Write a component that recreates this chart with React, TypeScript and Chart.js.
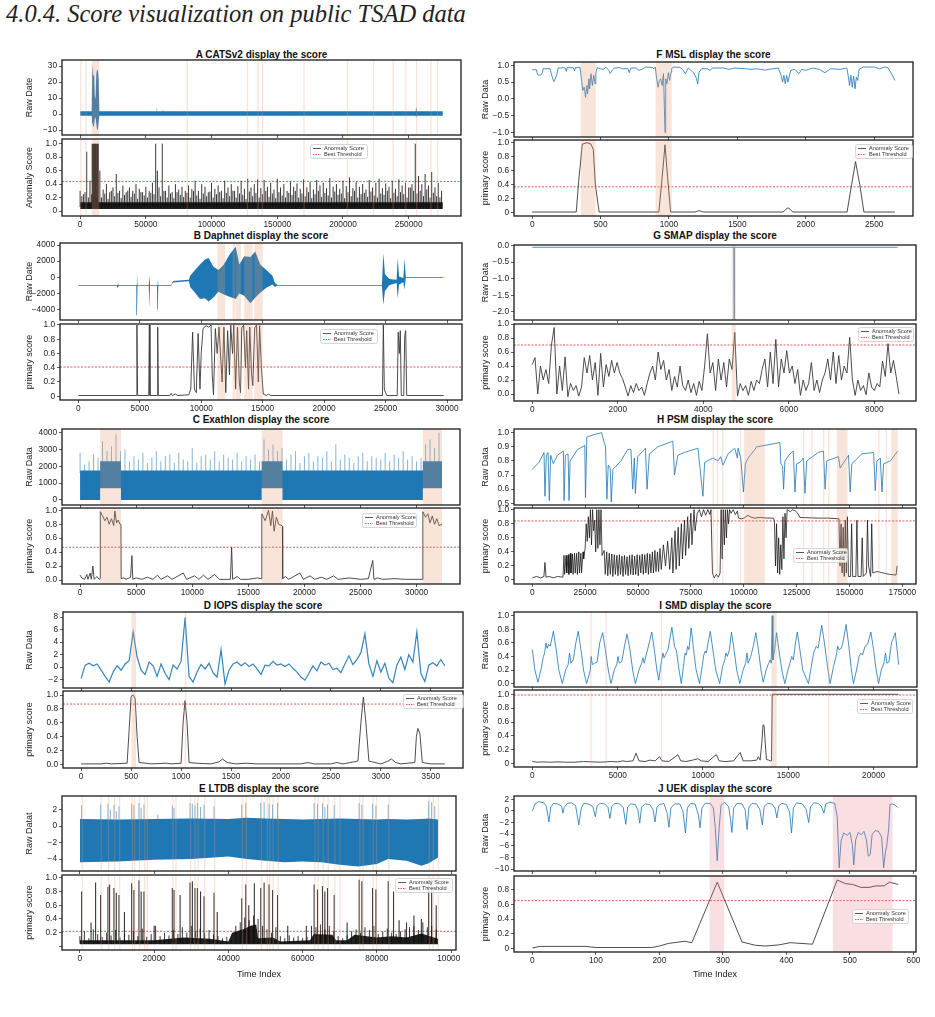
import React, { useEffect, useRef } from 'react';
import { Chart, registerables } from 'chart.js';
Chart.register(...registerables);

const FONT = "'Liberation Sans', Arial, Helvetica, sans-serif";
const MINUS = '\u2212';

// ---------------- text ----------------
const heading = '4.0.4. Score visualization on public TSAD data';
const panelTitles = ['A CATSv2 display the score', 'F MSL display the score', 'B Daphnet display the score', 'G SMAP display the score', 'C Exathlon display the score', 'H PSM display the score', 'D IOPS display the score', 'I SMD display the score', 'E LTDB display the score', 'J UEK display the score'];
const legendLabels = ['Anormaly Score', 'Best Threshold'];
const scoreYTicks = [0, 0.2, 0.4, 0.6, 0.8, 1.0];

// ---------------- A CATSv2 ----------------
const aXTicks = [0, 50000, 100000, 150000, 200000, 250000];
const aRawYTicks = [-10, 0, 10, 20, 30];
const aRawX = [0, 8800, 9300, 9900, 10500, 11100, 11700, 12300, 12900, 13500, 14100, 14600, 58000, 58300, 58700, 62600, 62900, 63300, 255300, 255700, 256200, 276000];
const aRawHi = [1.7, 1.7, 31, 24, 30, 12, 9, 25, 28, 27, 22, 1.7, 1.7, 4.5, 1.7, 1.7, 3.2, 1.7, 1.7, 4.6, 1.7, 1.7];
const aRawLo = [-1.0, -1.0, -7.5, -5, -8, -3, -2, -6, -10, -9.5, -5, -1.0, -1.0, -1.0, -1.0, -1.0, -1.0, -1.0, -1.0, -2, -1.0, -1.0];
const aCoreX = [0, 8800, 8800, 13900, 13900, 276000];
const aCoreHi = [0.13, 0.13, 1.0, 1.0, 0.13, 0.13];
const aSpikeStep = 2500;
const aSpikeTop = [0.3, 0.25, 0.88, 0.45, 0.2, 0.2, 0.6, 0.32, 0.4, 0.28, 0.35, 0.55, 0.3, 0.38, 0.28, 0.35, 0.3, 0.4, 0.33, 0.28, 0.36, 0.3, 0.42, 1.0, 0.35, 1.0, 0.3, 0.38, 0.28, 0.4, 0.32, 0.36, 0.3, 0.38, 0.33, 0.45, 0.3, 0.4, 0.36, 0.28, 0.42, 0.33, 0.38, 0.3, 0.45, 0.35, 0.4, 0.3, 0.37, 0.45, 0.33, 0.48, 0.35, 0.4, 0.47, 0.34, 0.46, 0.36, 0.42, 0.32, 0.48, 0.35, 0.4, 0.3, 0.44, 0.36, 0.41, 0.33, 0.47, 0.35, 0.43, 0.32, 0.46, 0.38, 0.42, 0.34, 0.49, 0.36, 0.4, 0.33, 0.45, 0.37, 0.5, 0.34, 0.43, 0.36, 0.4, 0.32, 0.46, 0.35, 0.42, 0.48, 0.34, 0.41, 0.36, 0.45, 0.33, 0.47, 0.38, 0.42, 0.35, 0.4, 1.0, 0.52, 0.4, 0.55, 0.38, 0.58, 0.35, 0.42, 0.3];
const aSpike2Start = 1250;
const aSpike2Top = [0.22, 0.28, 0.2, 0.25, 1.0, 1.0, 0.2, 0.26, 0.18, 0.3, 0.22, 0.27, 0.19, 0.24, 0.3, 0.21, 0.26, 0.18, 0.28, 0.23, 0.2, 0.27, 0.25, 0.6, 0.22, 0.3, 0.2, 0.26, 0.19, 0.28, 0.24, 0.21, 0.27, 0.2, 0.3, 0.23, 0.18, 0.26, 0.22, 0.29, 0.2, 0.25, 0.28, 0.19, 0.27, 0.22, 0.3, 0.2, 0.26, 0.24, 0.18, 0.29, 0.22, 0.27, 0.2, 0.25, 0.3, 0.21, 0.26, 0.19, 0.28, 0.23, 0.2, 0.27, 0.24, 0.3, 0.2, 0.26, 0.22, 0.28, 0.19, 0.25, 0.3, 0.21, 0.27, 0.23, 0.2, 0.29, 0.24, 0.26, 0.19, 0.28, 0.22, 0.3, 0.2, 0.25, 0.27, 0.21, 0.29, 0.23, 0.2, 0.26, 0.24, 0.3, 0.19, 0.27, 0.22, 0.28, 0.25, 0.2, 0.35, 0.3, 0.26, 0.3, 0.22, 0.32, 0.2, 0.27, 0.22, 0.2];
const aThreshold = 0.44;
const aSpans = [[8800, 14500], [0, 500], [4000, 4500], [81000, 81500], [126800, 127300], [134900, 135400], [138200, 138700], [169900, 170400], [202900, 203400], [222700, 223200], [237700, 238200], [247300, 247800], [255500, 256000], [266400, 266900], [271500, 272000]];

// ---------------- B Daphnet ----------------
const bXTicks = [0, 5000, 10000, 15000, 20000, 25000, 30000];
const bRawYTicks = [-4000, -2000, 0, 2000, 4000];
// [time, high, low]
const bRaw = [[0, -950, -1050], [3150, -950, -1050], [3220, -750, -1250], [3290, -950, -1050], [4720, -950, -1050], [4770, 600, -4700], [4820, -950, -1050], [5730, -950, -1050], [5780, 300, -3800], [5830, -950, -1050], [6410, -950, -1050], [6460, -200, -4000], [6510, -950, -1050], [7550, -950, -1050], [7700, -450, -650], [9000, -300, -500], [9100, 200, -1200], [9500, 900, -1900], [9900, 1600, -2700], [10300, 2200, -2600], [10600, 2400, -3000], [11000, 1300, -2500], [11400, 900, -1800], [11800, 1500, -2100], [12300, 2800, -2400], [12800, 3800, -2700], [13100, 1600, -2000], [13500, 2600, -2300], [14000, 2500, -3200], [14400, 3200, -2500], [14800, 1600, -1900], [15300, 900, -1300], [15800, 200, -900], [16000, -700, -1200], [16200, -950, -1050], [24700, -950, -1050], [24820, 3000, -3400], [24950, 400, -1700], [25300, -200, -1000], [25900, -300, -700], [25990, 2400, -2600], [26100, 100, -900], [26450, -100, -600], [26540, 2300, -1500], [26650, 50, -50], [29730, 50, -50]];
const bScore = [[0, 0.01], [4720, 0.01], [4770, 1.0], [4820, 0.01], [5730, 0.01], [5780, 1.0], [5830, 0.01], [6410, 0.01], [6460, 0.97], [6510, 0.01], [7450, 0.01], [7550, 0.04], [7650, 0.01], [7900, 0.03], [8100, 0.01], [9000, 0.02], [9150, 0.1], [9300, 0.9], [9450, 0.1], [9600, 0.05], [9750, 0.88], [9900, 0.1], [10000, 0.6], [10150, 0.95], [10400, 0.99], [10600, 0.97], [10800, 1.0], [10900, 0.3], [11000, 0.02], [11150, 0.95], [11300, 0.6], [11450, 0.97], [11600, 0.5], [11700, 0.2], [11850, 0.97], [12000, 0.05], [12150, 0.92], [12300, 0.3], [12400, 1.0], [12550, 0.6], [12650, 1.0], [12800, 0.1], [12950, 0.97], [13100, 0.2], [13200, 0.05], [13300, 0.96], [13450, 1.0], [13600, 0.4], [13700, 0.92], [13850, 0.1], [13950, 0.97], [14100, 0.3], [14200, 0.15], [14350, 0.96], [14500, 1.0], [14650, 0.2], [14750, 0.99], [14900, 0.4], [15050, 0.03], [15300, 0.01], [15500, 0.03], [15650, 0.01], [24750, 0.01], [24820, 1.0], [24900, 0.1], [25000, 0.05], [25100, 0.01], [25950, 0.01], [26030, 0.9], [26120, 0.6], [26200, 0.92], [26280, 0.01], [26480, 0.01], [26560, 0.85], [26640, 0.92], [26720, 0.01], [29730, 0.01]];
const bThreshold = 0.41;
const bSpans = [[11320, 11950], [12550, 12770], [12820, 13230], [13500, 14180], [14320, 15000]];

// ---------------- C Exathlon ----------------
const cXTicks = [0, 5000, 10000, 15000, 20000, 25000, 30000];
const cRawYTicks = [0, 1000, 2000, 3000, 4000];
const cCoreX = [0, 1790, 1790, 3640, 3640, 16190, 16190, 18040, 18040, 30560, 30560, 32260];
const cCoreHi = [1750, 1750, 2300, 2300, 1750, 1750, 2300, 2300, 1750, 1750, 2300, 2300];
const cCoreLo = [0, 0, 700, 700, 0, 0, 700, 700, 0, 0, 700, 700];
const cSpikeStep = 400;
const cSpikeTop = [2800, 2100, 2300, 2700, 2500, 3500, 2900, 3200, 3900, 2900, 3000, 2300, 2600, 2400, 2800, 2200, 2500, 2900, 2300, 2600, 2700, 2200, 2800, 2400, 2300, 3100, 2200, 2600, 2700, 2400, 2900, 2300, 2700, 2500, 2400, 2800, 2300, 2600, 2400, 2700, 2300, 3600, 3000, 3300, 2900, 3100, 2400, 2700, 2900, 2200, 2600, 2800, 2300, 2600, 2500, 2900, 2300, 3300, 2400, 2700, 2500, 2200, 2600, 2800, 2300, 2600, 2500, 2400, 2800, 2300, 2700, 2500, 2900, 2400, 2600, 2300, 2500, 3300, 3600, 3100, 4000];
const cScore = [[0, 0.07], [150, 0.03], [400, 0.01], [600, 0.08], [700, 0.01], [900, 0.1], [1000, 0.01], [1140, 0.2], [1250, 0.01], [1500, 0.05], [1700, 0.01], [1780, 0.02], [1800, 0.98], [2000, 0.92], [2200, 0.85], [2400, 0.9], [2600, 0.8], [2800, 0.88], [3000, 0.78], [3100, 0.99], [3250, 0.82], [3400, 0.86], [3550, 0.8], [3640, 0.8], [3660, 0.02], [3900, 0.03], [4100, 0.01], [4500, 0.04], [4620, 0.35], [4700, 0.01], [5000, 0.03], [5500, 0.01], [6000, 0.04], [6500, 0.01], [6900, 0.07], [7200, 0.01], [7800, 0.06], [8200, 0.01], [9200, 0.1], [9500, 0.01], [10200, 0.06], [10600, 0.01], [11000, 0.07], [11400, 0.01], [12000, 0.08], [12400, 0.01], [13400, 0.01], [13510, 0.47], [13600, 0.01], [14000, 0.05], [14300, 0.01], [15000, 0.01], [15800, 0.03], [16150, 0.02], [16200, 0.95], [16500, 0.85], [16800, 1.0], [17000, 0.78], [17150, 0.99], [17300, 0.7], [17500, 0.9], [17700, 0.8], [18000, 0.78], [18040, 0.77], [18060, 0.02], [18300, 0.05], [18600, 0.01], [19600, 0.1], [19900, 0.01], [20500, 0.06], [20900, 0.01], [21500, 0.04], [22000, 0.01], [22600, 0.06], [23000, 0.01], [24000, 0.03], [25000, 0.01], [25700, 0.02], [26090, 0.28], [26200, 0.01], [26500, 0.03], [27000, 0.01], [28000, 0.02], [29000, 0.01], [30500, 0.01], [30560, 0.98], [30800, 0.9], [31000, 0.95], [31200, 0.82], [31400, 0.92], [31600, 0.8], [31800, 0.88], [32000, 0.78], [32260, 0.8]];
const cThreshold = 0.47;
const cSpans = [[1790, 3640], [16190, 18040], [30560, 32260]];

// ---------------- D IOPS ----------------
const dXTicks = [0, 500, 1000, 1500, 2000, 2500, 3000, 3500];
const dRawYTicks = [-2, 0, 2, 4, 6, 8];
const dRawStep = 40;
const dRaw = [-1.8, 0.3, 0.6, 0.2, 0.5, -0.5, -1.5, -2.4, -0.8, 0.2, -0.5, 0.5, 1.0, 5.6, 1.6, -0.5, -1.2, 0.8, 0.2, -1.5, 0.5, -1.0, -2.0, 0.3, -0.3, 0.9, 7.9, -1.5, -2.4, -0.8, 0.4, -0.3, 0.6, -0.9, -1.6, 2.8, -2.7, -0.5, 0.5, 0.8, 0.2, 0.7, 0.1, 0.5, -0.3, -1.2, 0.3, 0.2, 0.9, 0.3, 0.5, 0.1, 0.5, -0.2, -0.8, -1.6, -2.1, -1.0, 0.2, -0.6, 0.8, 0.3, 0.6, -0.4, -0.2, -0.9, 0.5, 1.8, 0.4, 1.2, 2.3, 5.3, 0.5, -1.5, 1.0, -0.8, 0.6, -1.8, -2.5, 0.3, 1.6, -0.4, 2.0, 0.8, 5.6, -1.0, -2.3, 0.3, 0.7, 0.2, 1.2, 0.2];
const dScore = [[0, 0.01], [200, 0.01], [250, 0.02], [300, 0.01], [460, 0.02], [480, 0.5], [500, 0.98], [520, 1.0], [540, 0.95], [560, 0.4], [580, 0.03], [650, 0.02], [700, 0.01], [850, 0.02], [900, 0.01], [1000, 0.02], [1020, 0.6], [1040, 0.92], [1060, 0.6], [1080, 0.03], [1150, 0.02], [1300, 0.01], [1380, 0.04], [1415, 0.08], [1460, 0.03], [1550, 0.01], [1650, 0.02], [1750, 0.01], [2200, 0.01], [2270, 0.03], [2330, 0.01], [2500, 0.01], [2560, 0.03], [2620, 0.01], [2770, 0.05], [2800, 0.6], [2825, 0.97], [2850, 0.6], [2880, 0.05], [3000, 0.01], [3070, 0.05], [3105, 0.08], [3150, 0.03], [3200, 0.01], [3340, 0.03], [3355, 0.4], [3370, 0.52], [3390, 0.45], [3415, 0.03], [3500, 0.01], [3640, 0.01]];
const dThreshold = 0.87;
const dSpans = [[503, 549], [1038, 1046]];

// ---------------- E LTDB ----------------
const eXTicks = [0, 20000, 40000, 60000, 80000, 100000];
const eRawYTicks = [-4, -2, 0, 2];
// [time, high, low]
const eRawCore = [[0, 0.85, -4.4], [10000, 0.8, -4.3], [20000, 0.85, -4.1], [30000, 0.9, -4.0], [40000, 0.85, -3.7], [45000, 1.0, -4.0], [50000, 0.9, -4.2], [55000, 0.85, -4.4], [60000, 0.8, -4.3], [65000, 0.85, -4.4], [70000, 0.9, -4.7], [75000, 0.85, -4.9], [80000, 0.8, -4.6], [83000, 0.85, -4.0], [88000, 0.8, -4.2], [92000, 0.85, -4.8], [94000, 0.9, -4.5], [96500, 0.8, -3.8]];
const eRawSpikeX = [460, 5580, 7560, 8200, 9180, 9800, 10520, 13940, 14560, 15910, 16500, 17260, 21000, 24900, 25350, 29670, 30300, 31000, 31650, 32500, 33450, 36140, 43610, 44690, 48730, 49630, 50970, 51900, 53240, 63110, 64010, 65360, 66000, 66710, 68510, 75240, 75970, 78850, 79750, 83070, 93960, 94770, 95600];
const eRawSpikeTop = [2.5, 2.6, 2.7, 2.0, 2.6, 1.8, 2.4, 2.7, 2.5, 2.8, 2.2, 2.6, 1.4, 2.5, 2.2, 2.8, 2.7, 2.5, 2.8, 2.3, 2.6, 2.4, 2.6, 2.8, 2.8, 2.9, 2.7, 2.6, 2.8, 2.8, 2.7, 2.7, 2.3, 2.6, 2.5, 2.8, 2.6, 2.7, 2.5, 2.6, 3.0, 2.9, 2.4];
const eCore = [[0, 0.09], [20000, 0.09], [28000, 0.13], [35000, 0.11], [40000, 0.07], [41000, 0.2], [44000, 0.25], [46000, 0.3], [47500, 0.32], [48000, 0.12], [52000, 0.13], [54000, 0.07], [62000, 0.09], [63000, 0.18], [68000, 0.17], [69000, 0.09], [72000, 0.09], [74000, 0.17], [80000, 0.13], [84000, 0.15], [88000, 0.13], [92000, 0.19], [96500, 0.11]];
const eSpikeX = [460, 3000, 4230, 5580, 7560, 8000, 9180, 9800, 10520, 12000, 13940, 14560, 15910, 16500, 17260, 20000, 24900, 25350, 27000, 29670, 30300, 31000, 31650, 32500, 33450, 36140, 37000, 43610, 44690, 45500, 47000, 48730, 49630, 50970, 51900, 53240, 56000, 61000, 63110, 64010, 65360, 66000, 66710, 68510, 72000, 75240, 75970, 78850, 79750, 83070, 84500, 86000, 88000, 90000, 92000, 93960, 94770, 96000];
const eSpikeTop = [0.8, 0.35, 0.93, 0.75, 0.87, 0.9, 0.85, 0.78, 0.75, 0.5, 0.92, 0.82, 0.96, 0.8, 0.8, 0.3, 0.85, 0.82, 0.75, 0.93, 0.95, 0.85, 0.85, 0.8, 0.73, 0.78, 0.5, 0.7, 0.9, 0.6, 0.92, 0.85, 0.93, 0.9, 0.82, 0.75, 0.3, 0.3, 0.9, 0.83, 0.88, 0.8, 0.85, 0.75, 0.35, 0.97, 0.95, 0.85, 0.83, 0.95, 0.8, 0.38, 0.35, 0.45, 0.4, 0.92, 0.97, 0.6];
const eSmallStep = 1200;
const eSmallTop = [0.15, 0.22, 0.12, 0.25, 0.18, 0.14, 0.2, 0.16, 0.24, 0.13, 0.19, 0.17, 0.22, 0.15, 0.26, 0.14, 0.18, 0.3, 0.15, 0.2, 0.16, 0.24, 0.18, 0.28, 0.2, 0.3, 0.22, 0.26, 0.19, 0.24, 0.17, 0.15, 0.12, 0.14, 0.1, 0.3, 0.35, 0.42, 0.38, 0.45, 0.4, 0.3, 0.25, 0.2, 0.28, 0.15, 0.12, 0.16, 0.13, 0.15, 0.12, 0.14, 0.3, 0.28, 0.32, 0.25, 0.3, 0.22, 0.15, 0.12, 0.16, 0.22, 0.25, 0.2, 0.28, 0.24, 0.3, 0.18, 0.22, 0.26, 0.2, 0.18, 0.22, 0.25, 0.28, 0.3, 0.24, 0.35, 0.28, 0.3, 0.25];
const eThreshold = 0.22;
const eSpanAt = [460, 5580, 7560, 9180, 10520, 13940, 14560, 15910, 17260, 18000, 24900, 25700, 29670, 30800, 31650, 33450, 36140, 43610, 44690, 48730, 50300, 50970, 51900, 53240, 63110, 64010, 65360, 66710, 68510, 69900, 75240, 76100, 78850, 79750, 83070, 93960, 95000, 96390];

// ---------------- F MSL ----------------
const fXTicks = [0, 500, 1000, 1500, 2000, 2500];
const fRawYTicks = [-1.0, -0.5, 0.0, 0.5, 1.0];
const fRaw = [[0, 0.87], [30, 0.87], [40, 0.72], [60, 0.7], [75, 0.78], [80, 0.9], [130, 0.9], [140, 0.75], [150, 0.6], [160, 0.52], [170, 0.62], [180, 0.72], [190, 0.92], [240, 0.93], [250, 0.82], [255, 0.93], [300, 0.93], [310, 0.83], [315, 0.93], [350, 0.94], [360, 0.6], [370, 0.25], [380, 0.35], [390, 0.05], [400, 0.4], [405, 0.15], [415, 0.6], [420, 0.3], [430, 0.75], [440, 0.4], [450, 0.7], [460, 0.45], [465, 0.75], [470, 0.85], [475, 0.93], [500, 0.9], [520, 0.88], [540, 0.94], [560, 0.85], [570, 0.76], [580, 0.82], [600, 0.92], [640, 0.93], [660, 0.9], [700, 0.9], [710, 0.78], [720, 0.92], [760, 0.92], [780, 0.85], [800, 0.88], [830, 0.95], [860, 0.94], [880, 0.93], [890, 0.9], [900, 0.95], [910, 0.6], [920, 0.35], [930, 0.55], [940, 0.6], [950, 0.4], [960, 0.75], [971, -1.0], [976, 0.6], [985, 0.45], [995, 0.78], [1005, 0.55], [1015, 0.8], [1020, 0.9], [1030, 0.95], [1080, 0.94], [1100, 0.88], [1120, 0.75], [1140, 0.92], [1160, 0.85], [1180, 0.78], [1200, 0.62], [1210, 0.45], [1220, 0.8], [1240, 0.9], [1280, 0.9], [1300, 0.85], [1320, 0.92], [1400, 0.92], [1440, 0.88], [1480, 0.92], [1560, 0.9], [1600, 0.88], [1640, 0.9], [1700, 0.86], [1760, 0.9], [1800, 0.92], [1820, 0.7], [1830, 0.5], [1840, 0.7], [1850, 0.45], [1860, 0.7], [1870, 0.5], [1880, 0.68], [1890, 0.85], [1920, 0.88], [1950, 0.75], [1970, 0.88], [2000, 0.85], [2050, 0.92], [2100, 0.88], [2140, 0.78], [2180, 0.9], [2250, 0.88], [2300, 0.92], [2310, 0.7], [2320, 0.4], [2330, 0.7], [2340, 0.35], [2350, 0.68], [2360, 0.3], [2370, 0.65], [2380, 0.55], [2390, 0.88], [2420, 0.95], [2500, 0.95], [2540, 0.9], [2580, 0.95], [2600, 0.93], [2620, 0.8], [2640, 0.65], [2651, 0.55]];
const fScore = [[0, 0.01], [322, 0.01], [340, 0.45], [366, 0.98], [400, 1.0], [430, 0.98], [447, 0.9], [462, 0.4], [489, 0.01], [926, 0.01], [950, 0.5], [971, 0.97], [990, 0.5], [1012, 0.01], [1190, 0.01], [1221, 0.03], [1250, 0.01], [1835, 0.01], [1855, 0.05], [1870, 0.07], [1885, 0.05], [1904, 0.01], [2302, 0.01], [2335, 0.4], [2364, 0.73], [2395, 0.4], [2425, 0.01], [2651, 0.01]];
const fThreshold = 0.37;
const fSpans = [[356, 464], [902, 1020]];

// ---------------- G SMAP ----------------
const gXTicks = [0, 2000, 4000, 6000, 8000];
const gRawYTicks = [-2.0, -1.5, -1.0, -0.5, 0.0];
const gRaw = [[0, -0.05], [4715, -0.05], [4721, -2.22], [4727, -0.05], [8548, -0.05]];
const gScoreStep = 64;
const gScore = [0.42, 0.52, 0.0, 0.4, 0.2, 0.35, 0.15, 0.7, 0.95, 0.0, 0.4, 0.05, 0.53, -0.04, 0.15, 0.05, 0.12, -0.03, 0.1, 0.52, 0.3, 0.55, 0.2, 0.45, -0.02, 0.58, 0.1, 0.42, 0.25, 0.48, 0.3, 0.45, 0.3, 0.22, 0.1, -0.03, 0.12, 0.02, 0.15, 0.05, 0.1, -0.02, 0.15, 0.3, 0.4, 0.2, 0.6, 0.35, 0.48, 0.2, 0.35, 0.05, 0.25, 0.1, 0.4, 0.12, 0.05, 0.2, 0.02, 0.15, -0.02, 0.18, 0.05, 0.4, 0.86, 0.3, 0.45, 0.05, 0.5, 0.2, 0.45, 0.1, 0.5, 0.35, 0.88, -0.03, 0.15, 0.05, 0.12, -0.02, 0.18, 0.05, 0.2, 0.15, 0.35, 0.5, 0.1, 0.6, 0.15, 0.78, 0.1, 0.5, 0.3, 0.62, 0.3, 0.4, 0.15, 0.35, -0.02, 0.2, 0.05, 0.15, 0.45, 0.05, 0.2, 0.02, 0.2, 0.3, 0.5, 0.2, 0.6, 0.15, 0.55, 0.2, 0.4, 0.3, 0.81, 0.2, -0.02, 0.2, 0.05, 0.12, -0.01, 0.3, 0.1, 0.05, 0.15, 0.1, 0.47, 0.25, 0.72, 0.3, 0.48, 0.25, 0.0];
const gThreshold = 0.70;
const gSpans = [[4667, 4761]];

// ---------------- H PSM ----------------
const hXTicks = [0, 25000, 50000, 75000, 100000, 125000, 150000, 175000];
const hRawYTicks = [0.5, 0.6, 0.7, 0.8, 0.9, 1.0];
const hRaw = [[0, 0.74], [3160, 0.79], [5540, 0.86], [6010, 0.55], [6650, 0.84], [7440, 0.86], [8070, 0.52], [8700, 0.84], [9970, 0.78], [11870, 0.84], [14720, 0.87], [15030, 0.52], [15660, 0.84], [16930, 0.85], [17400, 0.52], [17880, 0.8], [21360, 0.88], [24840, 0.91], [25160, 0.54], [25790, 0.97], [30060, 0.99], [32750, 1.0], [34020, 0.93], [34650, 0.9], [35280, 0.53], [35920, 0.77], [36870, 0.75], [37340, 0.51], [38130, 0.74], [41930, 0.8], [45090, 0.88], [46680, 0.88], [47470, 0.6], [48260, 0.82], [48730, 0.57], [49840, 0.83], [53480, 0.89], [54270, 0.6], [55380, 0.85], [59340, 0.9], [66460, 0.94], [67250, 0.7], [68830, 0.84], [71990, 0.86], [78320, 0.89], [80700, 0.55], [81490, 0.79], [85440, 0.82], [87820, 0.8], [89080, 0.83], [90190, 0.77], [92560, 0.85], [95730, 0.89], [96990, 0.82], [97310, 0.89], [98570, 0.82], [99840, 0.58], [100790, 0.78], [102060, 0.82], [105220, 0.88], [106010, 0.9], [109970, 0.91], [117090, 0.93], [117560, 0.78], [118350, 0.76], [118830, 0.6], [119460, 0.8], [121840, 0.85], [123420, 0.87], [124210, 0.58], [125000, 0.78], [126580, 0.79], [128160, 0.82], [128960, 0.57], [129750, 0.8], [135280, 0.86], [137660, 0.87], [138450, 0.6], [139240, 0.8], [144780, 0.83], [145570, 0.75], [149530, 0.84], [150320, 0.58], [151110, 0.78], [155860, 0.85], [161390, 0.86], [162180, 0.59], [162970, 0.8], [164560, 0.82], [165350, 0.58], [166140, 0.78], [169310, 0.8], [172790, 0.87]];
const hScore = [[0, 0.03], [2000, 0.05], [4000, 0.03], [5500, 0.05], [6000, 0.25], [6500, 0.04], [8000, 0.05], [10000, 0.03], [12000, 0.05], [14500, 0.04],
  [15000, 0.35], [15300, 0.08], [16000, 0.35], [16300, 0.1], [17000, 0.36], [17300, 0.08], [18000, 0.38], [18300, 0.1], [19000, 0.37], [19300, 0.08], [20000, 0.38], [20300, 0.1], [21000, 0.38], [21300, 0.08], [22000, 0.4], [22300, 0.1], [23000, 0.38], [23300, 0.1], [24000, 0.4], [24300, 0.3],
  [25000, 0.45], [25500, 0.8], [26000, 0.55], [26500, 0.9], [27000, 0.6], [27500, 1.0], [28000, 0.5], [28500, 1.0], [29000, 0.7], [29500, 0.85], [30000, 0.4], [30500, 1.0], [31000, 0.45], [31500, 1.0], [32000, 0.5], [32500, 1.0], [33000, 0.35],
  [34000, 0.42], [34500, 0.08], [35200, 0.4], [35700, 0.06], [36400, 0.38], [36900, 0.08], [37600, 0.37], [38100, 0.05], [38800, 0.36], [39300, 0.08], [40000, 0.35], [40500, 0.06], [41200, 0.36], [41700, 0.08], [42400, 0.34], [42900, 0.05], [43600, 0.35], [44100, 0.08], [44800, 0.33], [45300, 0.06], [46000, 0.35], [46500, 0.08], [47200, 0.36], [47700, 0.07], [48400, 0.34], [48900, 0.08], [49600, 0.36], [50100, 0.06], [50800, 0.35], [51300, 0.1], [52000, 0.37], [52500, 0.08], [53200, 0.36], [53700, 0.1], [54400, 0.38], [54900, 0.08], [55600, 0.37], [56100, 0.1], [56800, 0.4], [57300, 0.1], [58000, 0.42], [58500, 0.12], [59200, 0.4], [59700, 0.12],
  [60400, 0.45], [61000, 0.15], [62000, 0.5], [63000, 0.2], [64000, 0.55], [65000, 0.15], [66000, 0.6],
  [66500, 0.1], [67500, 0.7], [68000, 0.15], [69000, 0.75], [69500, 0.2], [70500, 0.8], [71000, 0.3], [72000, 0.85], [72500, 0.35], [73500, 0.9], [74000, 0.45], [75000, 0.95], [75500, 0.5], [76500, 1.0], [77000, 0.7],
  [78000, 0.95], [79000, 1.0], [80000, 0.9], [81000, 1.0], [82000, 0.92], [83000, 1.0], [84000, 0.93], [84500, 1.0],
  [85200, 0.1], [86000, 0.03], [87000, 0.08], [88000, 0.04], [88800, 0.1],
  [89300, 1.0], [89800, 0.3], [90300, 1.0], [90800, 0.5], [91300, 1.0], [91800, 0.6], [92300, 1.0], [92800, 0.8], [93300, 1.0],
  [94000, 0.95], [95000, 1.0], [96000, 0.93], [97000, 0.98],
  [97500, 0.88], [99000, 0.87], [100000, 0.88], [101000, 0.9], [102000, 0.92], [103000, 0.9], [105000, 0.88], [108000, 0.89], [111000, 0.88], [114000, 0.88],
  [114500, 0.85], [115000, 0.2], [115500, 0.8], [116000, 0.1], [116500, 0.6], [117000, 0.08], [117500, 0.5], [118000, 0.15], [118500, 0.9], [119000, 0.3], [119500, 0.95], [120000, 0.6],
  [120500, 1.0], [122000, 0.97], [123000, 1.0], [124500, 0.98], [125500, 0.95],
  [126500, 0.89], [135000, 0.88], [140000, 0.88], [145000, 0.87],
  [145500, 0.2], [146000, 0.8], [146500, 0.1], [147000, 0.75], [147500, 0.05], [148000, 0.85], [148500, 0.1], [149000, 0.9], [149500, 0.05], [150500, 0.05], [151000, 0.8], [151500, 0.05], [153000, 0.05], [153500, 0.85], [154000, 0.05], [155500, 0.05], [156000, 0.6], [156500, 0.05], [158000, 0.1], [158500, 0.85], [159000, 0.2], [160000, 0.05], [160500, 0.8], [161000, 0.1],
  [163000, 0.12], [166000, 0.1], [169000, 0.08], [172000, 0.07], [172500, 0.2]];
const hThreshold = 0.84;
const hSpans = [[100160, 109970], [143990, 149050], [169780, 172780], [85300, 85600], [87200, 87500], [89700, 90000], [98100, 98400], [128000, 128300], [132000, 132300], [137500, 137800], [139900, 140200], [163600, 163900], [167100, 167400]];

// ---------------- I SMD ----------------
const iXTicks = [0, 5000, 10000, 15000, 20000];
const iRawYTicks = [0.0, 0.2, 0.4, 0.6, 0.8, 1.0];
const iRaw = [[0, 0.5], [150, 0.2], [330, 0.02], [520, 0.22], [650, 0.4], [720, 0.45], [800, 0.6], [870, 0.52], [950, 0.58], [1050, 0.55], [1235, 0.77], [1400, 0.5], [1550, 0.2], [1760, 0.0], [1950, 0.2], [2100, 0.28], [2180, 0.45], [2260, 0.3], [2400, 0.35], [2550, 0.6], [2690, 0.77], [2850, 0.5], [3000, 0.2], [3180, 0.0], [3400, 0.2], [3450, 0.4], [3520, 0.28], [3650, 0.3], [3800, 0.32], [3950, 0.6], [4120, 0.75], [4280, 0.5], [4450, 0.2], [4610, 0.0], [4800, 0.2], [4950, 0.28], [5020, 0.4], [5100, 0.3], [5250, 0.33], [5400, 0.55], [5550, 0.73], [5720, 0.5], [5880, 0.2], [6040, 0.0], [6250, 0.2], [6400, 0.3], [6480, 0.38], [6560, 0.3], [6700, 0.45], [6850, 0.6], [7000, 0.76], [7150, 0.5], [7300, 0.2], [7410, 0.05], [7550, 0.3], [7650, 0.45], [7720, 0.38], [7800, 0.42], [7950, 0.5], [8180, 0.83], [8330, 0.55], [8450, 0.48], [8600, 0.2], [8730, 0.0], [8880, 0.3], [8950, 0.45], [9020, 0.42], [9100, 0.55], [9180, 0.5], [9310, 0.82], [9450, 0.5], [9600, 0.2], [9800, 0.0], [9950, 0.25], [10050, 0.42], [10130, 0.48], [10200, 0.45], [10300, 0.6], [10430, 0.77], [10580, 0.5], [10750, 0.2], [10980, 0.0], [11150, 0.25], [11280, 0.35], [11350, 0.45], [11430, 0.4], [11550, 0.5], [11670, 0.76], [11820, 0.5], [11980, 0.2], [12160, 0.0], [12350, 0.2], [12500, 0.3], [12580, 0.45], [12650, 0.3], [12800, 0.4], [12950, 0.55], [13100, 0.75], [13250, 0.5], [13400, 0.2], [13530, 0.02], [13700, 0.2], [13850, 0.3], [13950, 0.35], [14000, 0.3], [14060, 1.0], [14100, 0.35], [14200, 0.5], [14310, 0.75], [14450, 0.5], [14620, 0.2], [14800, 0.0], [14980, 0.2], [15100, 0.3], [15200, 0.4], [15300, 0.35], [15420, 0.6], [15530, 0.76], [15680, 0.5], [15850, 0.2], [16180, 0.0], [16350, 0.25], [16480, 0.45], [16560, 0.5], [16640, 0.55], [16750, 0.52], [16960, 0.86], [17120, 0.6], [17300, 0.25], [17450, 0.0], [17650, 0.25], [17800, 0.4], [17900, 0.55], [17980, 0.5], [18100, 0.52], [18200, 0.6], [18390, 0.87], [18550, 0.55], [18700, 0.2], [18820, 0.0], [19000, 0.2], [19150, 0.4], [19250, 0.45], [19350, 0.42], [19500, 0.55], [19650, 0.58], [19840, 0.76], [20000, 0.5], [20150, 0.2], [20290, 0.0], [20450, 0.2], [20600, 0.3], [20700, 0.45], [20780, 0.3], [20900, 0.32], [21050, 0.6], [21270, 0.75], [21470, 0.28]];
const iScore = [[0, 0.03], [300, 0.02], [600, 0.025], [1000, 0.02], [1500, 0.025], [2000, 0.02], [2500, 0.02], [3000, 0.03], [3500, 0.025], [4000, 0.02], [4600, 0.03], [5000, 0.025], [5300, 0.04], [5500, 0.03], [5900, 0.04], [6080, 0.15], [6250, 0.04], [6600, 0.03], [6900, 0.05], [7200, 0.04], [7450, 0.1], [7600, 0.04], [8000, 0.03], [8530, 0.13], [8700, 0.04], [9000, 0.03], [9400, 0.05], [9700, 0.07], [9900, 0.04], [10300, 0.03], [10780, 0.13], [10950, 0.04], [11300, 0.03], [11800, 0.04], [12180, 0.16], [12350, 0.04], [12800, 0.04], [13150, 0.05], [13240, 0.1], [13350, 0.05], [13450, 0.3], [13520, 0.56], [13580, 0.55], [13650, 0.3], [13720, 0.06], [13850, 0.05], [13950, 0.04], [14020, 0.04], [14060, 1.0], [21470, 1.0]];
const iThreshold = 0.99;
const iSpans = [[14020, 14320], [3400, 3460], [4290, 4350], [7530, 7570], [17330, 17370]];

// ---------------- J UEK ----------------
const jXTicks = [0, 100, 200, 300, 400, 500, 600];
const jRawYTicks = [-10, -8, -6, -4, -2, 0, 2];
const jScoreYTicks = [0, 0.2, 0.4, 0.6, 0.8];
const jRaw = [[0, 0.0], [4, 1.2], [10, 1.6], [18, 1.4], [22, 0.8], [26, -1.9], [29, 0.7], [33, 1.3], [40, 1.2], [46, 0.8], [48, -0.4], [50, 0.6], [55, 1.3], [62, 1.4], [68, 0.9], [73, -2.4], [77, 0.5], [81, 1.3], [88, 1.2], [95, 0.8], [99, -1.0], [102, 0.9], [107, 1.3], [114, 1.2], [119, 0.6], [122, -1.3], [125, 0.8], [130, 1.3], [137, 1.2], [143, 0.6], [147, -2.3], [150, 0.7], [155, 1.2], [162, 1.1], [166, 0.2], [169, -2.1], [172, 0.7], [178, 1.2], [185, 1.1], [190, 0.2], [193, -1.9], [196, 0.6], [200, 1.1], [207, 1.3], [212, -0.3], [215, -2.8], [218, 0.5], [224, 1.2], [232, 1.2], [237, 0.0], [241, -3.8], [244, 0.5], [249, 1.3], [256, 1.2], [261, -0.5], [264, -2.9], [267, 0.5], [272, 1.3], [280, 1.3], [285, 0.5], [288, -3.0], [291, -8.6], [294, -3.0], [297, 1.0], [303, 1.5], [309, 0.7], [312, -1.5], [314, -3.7], [317, 0.5], [322, 1.3], [330, 1.2], [335, 0.2], [338, -3.2], [341, 0.7], [346, 1.3], [353, 1.2], [358, 0.3], [362, -2.4], [365, 0.8], [370, 1.3], [377, 1.2], [382, 0.5], [385, -1.2], [388, 0.9], [393, 1.3], [400, 1.1], [405, -0.2], [408, -3.8], [411, 0.5], [416, 1.4], [425, 1.2], [431, 0.3], [435, -2.0], [438, 0.7], [443, 1.4], [450, 1.3], [455, 0.8], [459, -0.4], [462, 1.2], [468, 1.5], [476, 1.3], [480, -1.0], [483, -9.8], [486, -5.2], [490, -3.8], [496, -4.2], [500, -3.7], [504, -6.0], [506, -9.3], [509, -5.0], [513, -3.7], [518, -4.1], [522, -3.5], [526, -5.0], [529, -7.8], [532, -7.5], [535, -4.0], [540, -3.4], [545, -3.5], [550, -4.5], [553, -9.8], [556, -7.0], [558, -6.0], [561, -3.0], [563, 1.1], [567, 1.2], [571, 1.0], [575, 0.6]];
const jScore = [[0, 0.01], [12, 0.03], [83, 0.03], [100, 0.015], [188, 0.015], [200, 0.035], [214, 0.07], [240, 0.1], [251, 0.08], [291, 0.9], [330, 0.09], [351, 0.045], [367, 0.035], [388, 0.05], [406, 0.08], [441, 0.06], [480, 0.93], [493, 0.88], [504, 0.87], [517, 0.83], [530, 0.83], [541, 0.85], [554, 0.85], [562, 0.9], [576, 0.87]];
const jThreshold = 0.65;
const jSpans = [[279, 302], [473, 567]];

// ---------------- styling ----------------
const RAW = 'rgba(31,119,180,0.9)';
const RAW_FILL = 'rgb(31,119,180)';
const RAW_SPIKE = 'rgba(31,119,180,0.55)';
const SCORE = '#3a3a3a';
const SCORE_FILL = 'rgba(12,12,12,0.92)';
const SCORE_SPIKE = 'rgba(20,20,20,0.85)';
const THR = 'rgba(214,39,40,0.85)';
const SPAN = 'rgba(230,150,110,0.26)';
const SPAN_J = 'rgba(232,120,135,0.24)';
const CL = 20;
const CR = 476;
const PAD_T = 6;
const PAD_R = 4;

// ---------------- helpers ----------------
const PP = (xs: number[], ys: number[]) => xs.map((x, i) => ({ x, y: ys[i] }));
const PAIRS = (arr: number[][], k = 1) => arr.map((r) => ({ x: r[0], y: r[k] }));
const STEP = (step: number, ys: number[]) => ys.map((y, i) => ({ x: i * step, y }));
const SPIKES = (xs: number[], tops: number[], base: number) =>
  xs.flatMap((x, i) => [{ x, y: base }, { x, y: tops[i] }, { x, y: null }]);
const stepXs = (step: number, ys: number[], start = 0) => ys.map((_, i) => start + i * step);
const thinSpans = (xs: number[], w: number) => xs.map((x) => [x, x + w]);

const fmtInt = (v: number) => (v < 0 ? MINUS + Math.abs(v) : String(v));
const fmt1 = (v: number) => (v < 0 ? MINUS + Math.abs(v).toFixed(1) : v.toFixed(1));
const fmtS0 = (v: number) => (v === 0 ? '0' : v.toFixed(1));
const fmtNoZero = (v: number) => (v === 0 ? '' : v.toFixed(1));

const lineDs = (data: any[], color: string, width = 0.9, dash: number[] = []) => ({
  data, borderColor: color, borderWidth: width, borderDash: dash, pointRadius: 0, fill: false, tension: 0, spanGaps: false,
});
const bandDs = (hi: any[], lo: any[], color: string) => [
  { data: lo, borderColor: 'transparent', borderWidth: 0, pointRadius: 0, fill: false, tension: 0 },
  { data: hi, borderColor: 'transparent', borderWidth: 0, pointRadius: 0, fill: '-1', backgroundColor: color, tension: 0 },
];
const areaDs = (data: any[], base: number, color: string) => ({
  data, borderColor: 'transparent', borderWidth: 0, pointRadius: 0, fill: { value: base }, backgroundColor: color, tension: 0,
});
const thrDs = (t: number, x0: number, x1: number) => lineDs([{ x: x0, y: t }, { x: x1, y: t }], THR, 0.9, [2, 1.5]);

type Spec = any;

function buildSpecs(): Spec[] {
  const S: Spec[] = [];
  const add = (o: any) => S.push(o);

  // A
  const aX = { xMin: -13800, xMax: 289800, xTicks: aXTicks, spans: aSpans, spanColor: SPAN, cl: CL };
  add({ ...aX, frame: [62, 60, 461, 135], yMin: -13.1, yMax: 33.75, yTicks: aRawYTicks, yFmt: fmtInt, yLabel: 'Raw Date', showX: false,
    datasets: bandDs(PP(aRawX, aRawHi), PP(aRawX, aRawLo), RAW_FILL) });
  add({ ...aX, frame: [62, 139, 461, 216], yMin: -0.074, yMax: 1.07, yTicks: scoreYTicks, yFmt: fmtS0, yLabel: 'Anomaly Score', showX: true, legend: [310, 144, 57],
    datasets: [areaDs(PP(aCoreX, aCoreHi), 0.03, SCORE_FILL),
      lineDs(SPIKES(stepXs(aSpikeStep, aSpikeTop), aSpikeTop, 0.06), SCORE_SPIKE, 1),
      lineDs(SPIKES(stepXs(aSpikeStep, aSpike2Top, aSpike2Start), aSpike2Top, 0.04), SCORE_SPIKE, 1),
      thrDs(aThreshold, -13800, 289800)] });

  // F
  const fX = { xMin: -133, xMax: 2784, xTicks: fXTicks, spans: fSpans, spanColor: SPAN, cl: CR };
  add({ ...fX, frame: [514, 62, 913, 137], yMin: -1.136, yMax: 1.1, yTicks: fRawYTicks, yFmt: fmt1, yLabel: 'Raw Data', showX: false,
    datasets: [lineDs(PAIRS(fRaw), RAW, 0.9)] });
  add({ ...fX, frame: [514, 140, 913, 216], yMin: -0.047, yMax: 1.039, yTicks: scoreYTicks, yFmt: fmtS0, yLabel: 'primary score', showX: true, legend: [855, 144, 57],
    datasets: [lineDs(PAIRS(fScore), SCORE, 0.9), thrDs(fThreshold, -133, 2784)] });

  // B
  const bX = { xMin: -1490, xMax: 31220, xTicks: bXTicks, spans: bSpans, spanColor: SPAN, cl: CL };
  add({ ...bX, frame: [60, 243, 462, 320], yMin: -5290, yMax: 4250, yTicks: bRawYTicks, yFmt: fmtInt, yLabel: 'Raw Date', showX: false,
    datasets: bandDs(PAIRS(bRaw, 1), PAIRS(bRaw, 2), RAW_FILL) });
  add({ ...bX, frame: [60, 324, 462, 400], yMin: -0.053, yMax: 1.014, yTicks: scoreYTicks, yFmt: fmtS0, yLabel: 'primary score', showX: true, legend: [320, 329, 57],
    datasets: [lineDs(PAIRS(bScore), SCORE, 0.9), thrDs(bThreshold, -1490, 31220)] });

  // G
  const gX = { xMin: -427, xMax: 8975, xTicks: gXTicks, spans: gSpans, spanColor: SPAN, cl: CR };
  add({ ...gX, frame: [514, 245, 916, 320], yMin: -2.25, yMax: 0.02, yTicks: gRawYTicks, yFmt: fmt1, yLabel: 'Raw Data', showX: false,
    datasets: [lineDs(PAIRS(gRaw), 'rgba(31,119,180,0.75)', 1)] });
  add({ ...gX, frame: [514, 324, 916, 401], yMin: -0.1, yMax: 1.0, yTicks: scoreYTicks, yFmt: fmt1, yLabel: 'primary score', showX: true, legend: [858, 327, 55],
    datasets: [lineDs(STEP(gScoreStep, gScore), SCORE, 0.9), thrDs(gThreshold, -427, 8975)] });

  // C
  const cX = { xMin: -1613, xMax: 33870, xTicks: cXTicks, spans: cSpans, spanColor: SPAN, cl: CL };
  add({ ...cX, frame: [62, 429, 460, 505], yMin: -300, yMax: 4220, yTicks: cRawYTicks, yFmt: fmtInt, yLabel: 'Raw Data', showX: false,
    datasets: [...bandDs(PP(cCoreX, cCoreHi), PP(cCoreX, cCoreLo), RAW_FILL), lineDs(SPIKES(stepXs(cSpikeStep, cSpikeTop), cSpikeTop, 1600), RAW_SPIKE, 1)] });
  add({ ...cX, frame: [62, 508, 460, 584], yMin: -0.057, yMax: 1.033, yTicks: scoreYTicks, yFmt: fmt1, yLabel: 'primary score', showX: true, legend: [362, 513, 54],
    datasets: [lineDs(PAIRS(cScore), SCORE, 0.9), thrDs(cThreshold, -1613, 33870)] });

  // H
  const hX = { xMin: -8640, xMax: 181440, xTicks: hXTicks, spans: hSpans, spanColor: SPAN, cl: CR };
  add({ ...hX, frame: [514, 429, 916, 505], yMin: 0.488, yMax: 1.026, yTicks: hRawYTicks, yFmt: fmt1, yLabel: 'Raw Data', showX: false,
    datasets: [lineDs(PAIRS(hRaw), RAW, 0.9)] });
  add({ ...hX, frame: [514, 508, 916, 584], yMin: -0.057, yMax: 1.024, yTicks: scoreYTicks, yFmt: fmtS0, yLabel: 'primary score', showX: true, legend: [793, 548, 54],
    datasets: [lineDs(PAIRS(hScore), 'rgba(20,20,20,0.85)', 0.9), thrDs(hThreshold, -8640, 181440)] });

  // D
  const dX = { xMin: -182, xMax: 3822, xTicks: dXTicks, spans: dSpans, spanColor: SPAN, cl: CL };
  add({ ...dX, frame: [63, 612, 463, 688], yMin: -3.35, yMax: 8.8, yTicks: dRawYTicks, yFmt: fmtInt, yLabel: 'Raw Data', showX: false,
    datasets: [lineDs(STEP(dRawStep, dRaw), RAW, 1.2)] });
  add({ ...dX, frame: [63, 691, 463, 768], yMin: -0.049, yMax: 1.058, yTicks: scoreYTicks, yFmt: fmt1, yLabel: 'primary score', showX: true, legend: [403, 694, 60],
    datasets: [lineDs(PAIRS(dScore), SCORE, 0.9), thrDs(dThreshold, -182, 3822)] });

  // I
  const iX = { xMin: -1074, xMax: 22544, xTicks: iXTicks, spans: iSpans, spanColor: SPAN, cl: CR };
  add({ ...iX, frame: [514, 612, 917, 687], yMin: -0.05, yMax: 1.055, yTicks: iRawYTicks, yFmt: fmt1, yLabel: 'Raw Data', showX: false,
    datasets: [lineDs(PAIRS(iRaw), RAW, 0.9)] });
  add({ ...iX, frame: [514, 690, 917, 767], yMin: -0.049, yMax: 1.062, yTicks: scoreYTicks, yFmt: fmtS0, yLabel: 'primary score', showX: true, legend: [857, 699, 55],
    datasets: [thrDs(iThreshold, -1074, 22544), lineDs(PAIRS(iScore), SCORE, 0.9)] });

  // E
  const eSp = thinSpans(eSpanAt, 300);
  const eX = { xMin: -4825, xMax: 101330, xTicks: eXTicks, spans: eSp, spanColor: SPAN, cl: CL };
  add({ ...eX, frame: [62, 796, 456, 871], yMin: -5.45, yMax: 3.64, yTicks: eRawYTicks, yFmt: fmtInt, yLabel: 'Raw Datat', showX: false,
    datasets: [...bandDs(PAIRS(eRawCore, 1), PAIRS(eRawCore, 2), RAW_FILL), lineDs(SPIKES(eRawSpikeX, eRawSpikeTop, 0.8), RAW_SPIKE, 1)] });
  add({ ...eX, frame: [62, 875, 456, 950], yMin: -0.052, yMax: 1.04, yTicks: scoreYTicks, yFmt: fmtNoZero, yLabel: 'primary score', showX: true, legend: [395, 878, 57],
    datasets: [areaDs(PAIRS(eCore), 0.03, SCORE_FILL),
      lineDs(SPIKES(stepXs(eSmallStep, eSmallTop), eSmallTop, 0.04), SCORE_SPIKE, 1),
      lineDs(SPIKES(eSpikeX, eSpikeTop, 0.05), SCORE_SPIKE, 1.1), thrDs(eThreshold, -4825, 101330)] });

  // J
  const jX = { xMin: -29, xMax: 604, xTicks: jXTicks, spans: jSpans, spanColor: SPAN_J, cl: CR };
  add({ ...jX, frame: [514, 796, 916, 871], yMin: -10.34, yMax: 2.57, yTicks: jRawYTicks, yFmt: fmtInt, yLabel: 'Raw Data', showX: false,
    datasets: [lineDs(PAIRS(jRaw), RAW, 0.9)] });
  add({ ...jX, frame: [514, 876, 916, 952], yMin: -0.046, yMax: 0.984, yTicks: jScoreYTicks, yFmt: fmtS0, yLabel: 'primary score', showX: true, legend: [852, 909, 56],
    datasets: [lineDs(PAIRS(jScore), SCORE, 0.9), thrDs(jThreshold, -29, 604)] });

  return S;
}

function geom(s: Spec) {
  const [fl, ft, fr, fb] = s.frame;
  const xH = s.showX ? 20 : 5;
  return { left: s.cl, top: ft - PAD_T, width: fr + PAD_R - s.cl, height: fb - ft + PAD_T + xH, xH, yW: fl - s.cl };
}

function buildConfig(s: Spec) {
  const g = geom(s);
  const tickFont = { family: FONT, size: 8.3 };
  const gridOpts = { drawOnChartArea: false, drawTicks: true, tickLength: 3, color: '#333', lineWidth: 0.8 };
  const overlay = {
    id: 'overlay',
    afterDatasetsDraw(chart: any) {
      const { ctx, chartArea: a } = chart;
      const xs = chart.scales.x;
      ctx.save();
      ctx.beginPath();
      ctx.rect(a.left, a.top, a.right - a.left, a.bottom - a.top);
      ctx.clip();
      ctx.fillStyle = s.spanColor;
      for (const sp of s.spans) {
        const p1 = xs.getPixelForValue(sp[0]);
        const p2 = xs.getPixelForValue(sp[1]);
        ctx.fillRect(p1, a.top, Math.max(p2 - p1, 1.3), a.bottom - a.top);
      }
      ctx.restore();
    },
    afterDraw(chart: any) {
      const { ctx, chartArea: a } = chart;
      ctx.save();
      ctx.strokeStyle = '#1a1a1a';
      ctx.lineWidth = 1.3;
      ctx.strokeRect(a.left, a.top, a.right - a.left, a.bottom - a.top);
      if (s.legend) {
        const lx = s.legend[0] - g.left;
        const ly = s.legend[1] - g.top;
        const w = s.legend[2];
        const h = 14;
        ctx.fillStyle = 'rgba(255,255,255,0.85)';
        ctx.strokeStyle = '#cccccc';
        ctx.lineWidth = 0.8;
        ctx.beginPath();
        ctx.roundRect(lx + 0.5, ly + 0.5, w, h, 2);
        ctx.fill();
        ctx.stroke();
        ctx.lineWidth = 0.9;
        ctx.strokeStyle = '#444';
        ctx.beginPath();
        ctx.moveTo(lx + 3, ly + 4.5);
        ctx.lineTo(lx + 11, ly + 4.5);
        ctx.stroke();
        ctx.strokeStyle = THR;
        ctx.setLineDash([1.5, 1]);
        ctx.beginPath();
        ctx.moveTo(lx + 3, ly + 10.5);
        ctx.lineTo(lx + 11, ly + 10.5);
        ctx.stroke();
        ctx.setLineDash([]);
        ctx.fillStyle = '#333';
        ctx.font = `5.6px ${FONT}`;
        ctx.textBaseline = 'middle';
        ctx.fillText(legendLabels[0], lx + 14, ly + 4.8);
        ctx.fillText(legendLabels[1], lx + 14, ly + 10.8);
      }
      ctx.restore();
    },
  };
  return {
    type: 'line',
    data: { datasets: s.datasets },
    options: {
      animation: false,
      responsive: false,
      devicePixelRatio: 1,
      events: [],
      layout: { padding: { top: PAD_T, right: PAD_R, left: 0, bottom: 0 } },
      plugins: { legend: { display: false }, tooltip: { enabled: false }, title: { display: false }, colors: { enabled: false } },
      scales: {
        x: {
          type: 'linear', min: s.xMin, max: s.xMax, bounds: 'data',
          afterBuildTicks: (sc: any) => { sc.ticks = s.xTicks.map((v: number) => ({ value: v })); },
          afterFit: (sc: any) => { sc.height = g.xH; sc.paddingLeft = 0; sc.paddingRight = 0; },
          ticks: { autoSkip: false, maxRotation: 0, minRotation: 0, padding: 1, font: tickFont, color: '#222',
            callback: (v: any) => (s.showX ? String(v) : '') },
          grid: gridOpts,
          border: { display: false },
        },
        y: {
          type: 'linear', min: s.yMin, max: s.yMax, bounds: 'data',
          afterBuildTicks: (sc: any) => { sc.ticks = s.yTicks.map((v: number) => ({ value: v })); },
          afterFit: (sc: any) => { sc.width = g.yW; sc.paddingTop = 0; sc.paddingBottom = 0; },
          ticks: { autoSkip: false, padding: 2, font: tickFont, color: '#222', callback: (v: any) => s.yFmt(Number(v)) },
          grid: gridOpts,
          border: { display: false },
          title: { display: true, text: s.yLabel, font: { family: FONT, size: 9 }, color: '#222', padding: { top: 4, bottom: 0 } },
        },
      },
    },
    plugins: [overlay],
  };
}

function SubChart({ spec }: { spec: Spec }) {
  const ref = useRef<HTMLCanvasElement>(null);
  const g = geom(spec);
  useEffect(() => {
    const chart = new Chart(ref.current as HTMLCanvasElement, buildConfig(spec) as any);
    return () => chart.destroy();
  }, []);
  return (
    <canvas ref={ref} width={g.width} height={g.height}
      style={{ position: 'absolute', left: g.left, top: g.top, width: g.width, height: g.height }} />
  );
}

const titlePos = [[62, 461, 55], [514, 913, 55], [60, 462, 236], [514, 916, 236], [62, 460, 420], [514, 916, 420], [63, 463, 606], [514, 917, 606], [62, 456, 789], [514, 916, 789]];

export default function App() {
  const specs = buildSpecs();
  return (
    <div style={{ position: 'absolute', left: 0, top: 0, width: 935, height: 1017, background: '#fff', overflow: 'hidden' }}>
      <div style={{ position: 'absolute', left: 6, top: 0, fontFamily: "'Liberation Serif', 'DejaVu Serif', serif", fontStyle: 'italic', fontSize: 24.5, color: '#222', whiteSpace: 'nowrap', lineHeight: '28px' }}>
        {heading}
      </div>
      {panelTitles.map((t, i) => (
        <div key={i} style={{ position: 'absolute', left: titlePos[i][0], width: titlePos[i][1] - titlePos[i][0], top: titlePos[i][2] - 6, height: 12, lineHeight: '12px', textAlign: 'center', fontFamily: FONT, fontWeight: 'bold', fontSize: 10, color: '#111', whiteSpace: 'nowrap' }}>
          {t}
        </div>
      ))}
      {specs.map((s, i) => <SubChart key={i} spec={s} />)}
      <div style={{ position: 'absolute', left: 62, width: 394, top: 968, lineHeight: '12px', textAlign: 'center', fontFamily: FONT, fontSize: 9, color: '#222' }}>Time Index</div>
      <div style={{ position: 'absolute', left: 514, width: 402, top: 968, lineHeight: '12px', textAlign: 'center', fontFamily: FONT, fontSize: 9, color: '#222' }}>Time Index</div>
    </div>
  );
}
